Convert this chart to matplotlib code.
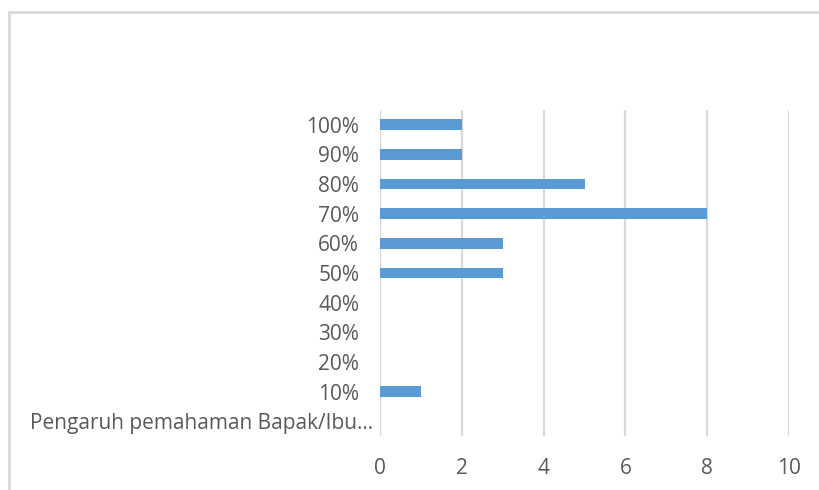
import matplotlib.pyplot as plt
from matplotlib.lines import Line2D

categories = ["Pengaruh pemahaman Bapak/Ibu...", "10%", "20%", "30%", "40%",
              "50%", "60%", "70%", "80%", "90%", "100%"]
values = [0, 1, 0, 0, 0, 3, 3, 8, 5, 2, 2]
xticks = [0, 2, 4, 6, 8, 10]

plt.rcParams['font.family'] = ['Open Sans', 'DejaVu Sans']

fig = plt.figure(figsize=(8.19, 4.9), dpi=100)
ax = fig.add_axes([380 / 819, 1 - 436 / 490, 409 / 819, 326 / 490])

ax.barh(range(len(categories)), values, height=0.36, color="#5b9bd5", zorder=3)
ax.set_xlim(0, 10)
ax.set_ylim(-0.5, len(categories) - 0.5)
ax.set_xticks(xticks)
ax.set_yticks(range(len(categories)))
ax.set_yticklabels(categories)
ax.grid(axis="x", color="#d9d9d9", linewidth=1.6, zorder=0)
for s in ax.spines.values():
    s.set_visible(False)
ax.axvline(0, color="#d9d9d9", linewidth=1.6, zorder=1)
ax.tick_params(axis="both", length=0, labelsize=15, colors="#595959")
ax.tick_params(axis="x", pad=16)
ax.tick_params(axis="y", pad=15)
ax.yaxis.get_major_ticks()[0].set_pad(5)

# chart frame (left and top edges visible)
fig.add_artist(Line2D([9 / 819, 9 / 819], [0, 1 - 12 / 490], transform=fig.transFigure,
                      color="#d9d9d9", linewidth=2))
fig.add_artist(Line2D([9 / 819, 1], [1 - 12 / 490, 1 - 12 / 490], transform=fig.transFigure,
                      color="#d9d9d9", linewidth=2))

fig.savefig("out.png", dpi=100)
